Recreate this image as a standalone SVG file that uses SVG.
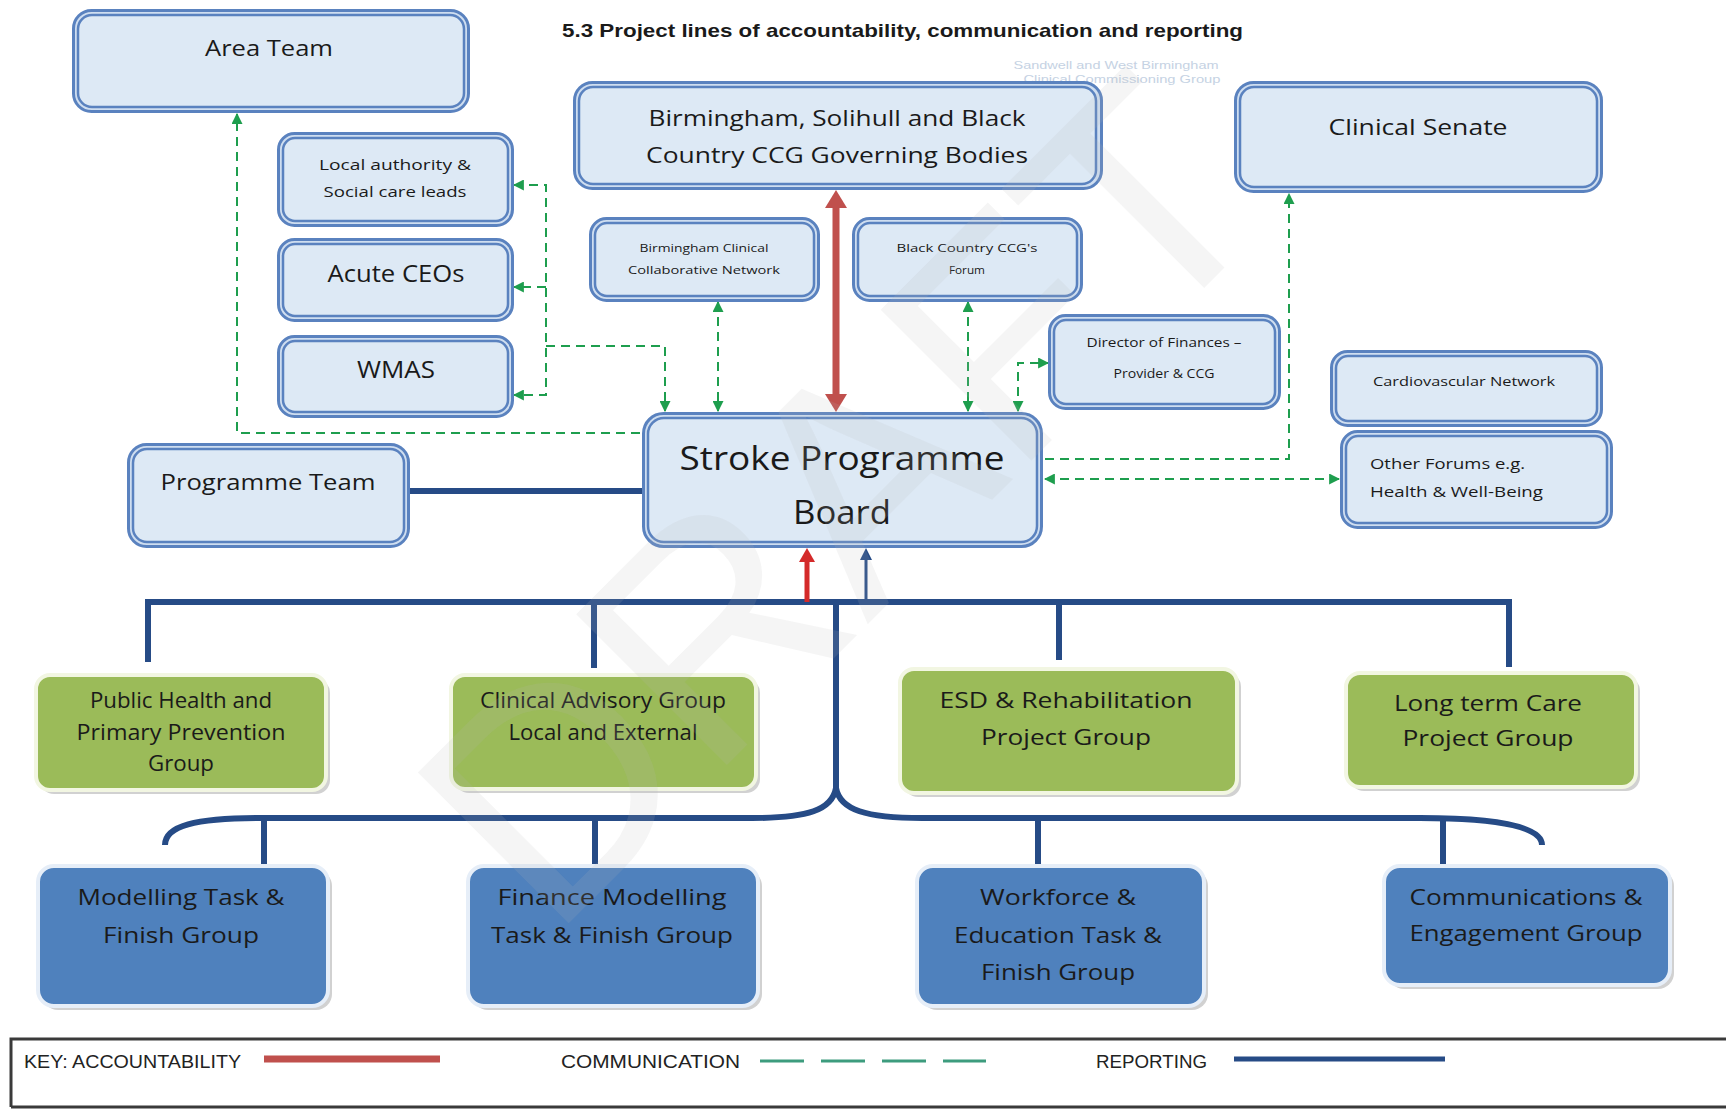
<svg xmlns="http://www.w3.org/2000/svg" width="1726" height="1110" viewBox="0 0 1726 1110">
<defs>
<style>
.o{fill:#cfdef0;stroke:#5a82bf;stroke-width:3}
.i{fill:#dde9f5;stroke:#5a82bf;stroke-width:2.5}
.g{fill:#9bbb59;stroke:#f2f6e2;stroke-width:4}
.b{fill:#4f81bd;stroke:#e6eef8;stroke-width:4}
.sh{fill:#9a9a9a;opacity:.45}
.t{font-family:"Open Sans","DejaVu Sans",sans-serif;fill:#1a1a1a;text-anchor:middle}
.tl{font-family:"Open Sans","DejaVu Sans",sans-serif;fill:#1a1a1a}
.rep{stroke:#264b86;stroke-width:6;fill:none}
.com{stroke:#1e9e4e;stroke-width:2;stroke-dasharray:9 6;fill:none}
.k{font-family:"Liberation Sans",Arial,sans-serif;font-size:19px;fill:#222}
</style>
<marker id="ga" viewBox="0 0 10 10" refX="9" refY="5" markerWidth="11" markerHeight="11" markerUnits="userSpaceOnUse" orient="auto-start-reverse"><path d="M0,0 L10,5 L0,10 z" fill="#1e9e4e"/></marker>
</defs>
<rect width="1726" height="1110" fill="#fff"/>

<text x="562" y="37" textLength="681" lengthAdjust="spacingAndGlyphs" font-family="Liberation Sans,Arial,sans-serif" font-weight="bold" font-size="19" fill="#1a1a1a">5.3 Project lines of accountability, communication and reporting</text>
<text x="1116" y="69" text-anchor="middle" font-family="Liberation Sans,Arial,sans-serif" font-size="11" fill="#c5d2e3" textLength="205" lengthAdjust="spacingAndGlyphs">Sandwell and West Birmingham</text>
<text x="1122" y="83" text-anchor="middle" font-family="Liberation Sans,Arial,sans-serif" font-size="11" fill="#c5d2e3" textLength="197" lengthAdjust="spacingAndGlyphs">Clinical Commissioning Group</text>

<g id="connectors">
<path class="rep" d="M410 491 H643"/>
<path class="rep" d="M148 662 V602 H1509 V667"/>
<path class="rep" d="M594 602 V668 M1059 602 V660"/>
<path class="rep" d="M836 602 V792"/>
<path class="rep" d="M165 845 C165 826 195 818 260 818 H752 C808 818 832 810 836 788 C840 810 866 818 922 818 H1420 C1505 818 1542 828 1542 845"/>
<path class="rep" d="M264 818 V866 M595 818 V866 M1038 818 V866 M1443 818 V866"/>
<path d="M807 602 V560" stroke="#d42a2a" stroke-width="5"/>
<polygon points="807,548 799,562 815,562" fill="#d42a2a"/>
<path d="M866 602 V558" stroke="#264b86" stroke-width="3"/>
<polygon points="866,548 860,560 872,560" fill="#264b86"/>
<path d="M836 206 V396" stroke="#c0504d" stroke-width="7"/>
<polygon points="836,190 825,208 847,208" fill="#c0504d"/>
<polygon points="836,412 825,394 847,394" fill="#c0504d"/>
<path class="com" d="M640 433 H237 V114" marker-end="url(#ga)"/>
<path class="com" d="M514 185 H546 V395 H514" marker-start="url(#ga)" marker-end="url(#ga)"/>
<path class="com" d="M546 287 H514" marker-end="url(#ga)"/>
<path class="com" d="M546 346 H665 V411" marker-end="url(#ga)"/>
<path class="com" d="M718 302 V411" marker-start="url(#ga)" marker-end="url(#ga)"/>
<path class="com" d="M968 302 V411" marker-start="url(#ga)" marker-end="url(#ga)"/>
<path class="com" d="M1018 411 V363 H1048" marker-start="url(#ga)" marker-end="url(#ga)"/>
<path class="com" d="M1045 459 H1289 V194" marker-end="url(#ga)"/>
<path class="com" d="M1045 479 H1339" marker-start="url(#ga)" marker-end="url(#ga)"/>
</g>

<g id="area-team"><rect class="o" x="73.5" y="10.5" width="395" height="101" rx="18"/><rect class="i" x="78" y="15" width="386" height="92" rx="14"/>
<text class="t" x="269" y="56" font-size="22" textLength="128" lengthAdjust="spacingAndGlyphs">Area Team</text></g>

<g id="ccg-governing"><rect class="o" x="574.5" y="82.5" width="527" height="106" rx="18"/><rect class="i" x="579" y="87" width="517" height="97" rx="14"/>
<text class="t" x="837" y="126" font-size="21" textLength="377" lengthAdjust="spacingAndGlyphs">Birmingham, Solihull and Black</text>
<text class="t" x="837" y="163" font-size="21" textLength="382" lengthAdjust="spacingAndGlyphs">Country CCG Governing Bodies</text></g>

<g id="clinical-senate"><rect class="o" x="1235.5" y="82.5" width="366" height="109" rx="18"/><rect class="i" x="1240" y="87" width="357" height="100" rx="14"/>
<text class="t" x="1418" y="135" font-size="22" textLength="179" lengthAdjust="spacingAndGlyphs">Clinical Senate</text></g>

<g id="local-authority"><rect class="o" x="278.5" y="133.5" width="234" height="92" rx="16"/><rect class="i" x="283" y="138" width="225" height="83" rx="12"/>
<text class="t" x="395" y="170" font-size="14" textLength="152" lengthAdjust="spacingAndGlyphs">Local authority &amp;</text>
<text class="t" x="395" y="197" font-size="14" textLength="143" lengthAdjust="spacingAndGlyphs">Social care leads</text></g>

<g id="acute-ceos"><rect class="o" x="278.5" y="239.5" width="234" height="81" rx="16"/><rect class="i" x="283" y="244" width="225" height="72" rx="12"/>
<text class="t" x="396" y="282" font-size="23" textLength="137" lengthAdjust="spacingAndGlyphs">Acute CEOs</text></g>

<g id="wmas"><rect class="o" x="278.5" y="336.5" width="234" height="80" rx="16"/><rect class="i" x="283" y="341" width="225" height="71" rx="12"/>
<text class="t" x="396" y="378" font-size="23" textLength="78" lengthAdjust="spacingAndGlyphs">WMAS</text></g>

<g id="bham-clinical-network"><rect class="o" x="590.5" y="218.5" width="228" height="82" rx="16"/><rect class="i" x="595" y="223" width="219" height="73" rx="12"/>
<text class="t" x="704" y="252" font-size="11" textLength="129" lengthAdjust="spacingAndGlyphs">Birmingham  Clinical</text>
<text class="t" x="704" y="274" font-size="11" textLength="152" lengthAdjust="spacingAndGlyphs">Collaborative  Network</text></g>

<g id="black-country-forum"><rect class="o" x="853.5" y="218.5" width="228" height="82" rx="16"/><rect class="i" x="858" y="223" width="219" height="73" rx="12"/>
<text class="t" x="967" y="252" font-size="11" textLength="141" lengthAdjust="spacingAndGlyphs">Black Country  CCG's</text>
<text class="t" x="967" y="274" font-size="11" textLength="36" lengthAdjust="spacingAndGlyphs">Forum</text></g>

<g id="director-finances"><rect class="o" x="1049.5" y="315.5" width="230" height="93" rx="16"/><rect class="i" x="1054" y="320" width="221" height="84" rx="12"/>
<text class="t" x="1164" y="347" font-size="12" textLength="155" lengthAdjust="spacingAndGlyphs">Director of Finances –</text>
<text class="t" x="1164" y="378" font-size="12" textLength="101" lengthAdjust="spacingAndGlyphs">Provider  &amp; CCG</text></g>

<g id="cardiovascular"><rect class="o" x="1331.5" y="351.5" width="270" height="74" rx="16"/><rect class="i" x="1336" y="356" width="261" height="65" rx="12"/>
<text class="t" x="1464" y="386" font-size="13" textLength="182" lengthAdjust="spacingAndGlyphs">Cardiovascular Network</text></g>

<g id="other-forums"><rect class="o" x="1341.5" y="431.5" width="270" height="96" rx="16"/><rect class="i" x="1346" y="436" width="261" height="87" rx="12"/>
<text class="tl" x="1370" y="469" font-size="15" textLength="155" lengthAdjust="spacingAndGlyphs">Other Forums e.g.</text>
<text class="tl" x="1370" y="497" font-size="15" textLength="173" lengthAdjust="spacingAndGlyphs">Health &amp; Well-Being</text></g>

<g id="stroke-board"><rect class="o" x="643.5" y="413.5" width="398" height="133" rx="20"/><rect class="i" x="648" y="418" width="389" height="124" rx="16"/>
<text class="t" x="842" y="470" font-size="32" textLength="325" lengthAdjust="spacingAndGlyphs">Stroke Programme</text>
<text class="t" x="842" y="524" font-size="32" textLength="98" lengthAdjust="spacingAndGlyphs">Board</text></g>

<g id="programme-team"><rect class="o" x="128.5" y="444.5" width="280" height="102" rx="18"/><rect class="i" x="133" y="449" width="271" height="93" rx="14"/>
<text class="t" x="268" y="490" font-size="22" textLength="215" lengthAdjust="spacingAndGlyphs">Programme Team</text></g>

<g id="public-health"><rect class="sh" x="40" y="679" width="290" height="115" rx="14"/><rect class="g" x="36" y="675" width="290" height="115" rx="14"/>
<text class="t" x="181" y="708" font-size="21" textLength="182" lengthAdjust="spacingAndGlyphs">Public Health and</text>
<text class="t" x="181" y="740" font-size="21" textLength="209" lengthAdjust="spacingAndGlyphs">Primary Prevention</text>
<text class="t" x="181" y="771" font-size="21" textLength="66" lengthAdjust="spacingAndGlyphs">Group</text></g>

<g id="clinical-advisory"><rect class="sh" x="455" y="679" width="305" height="114" rx="14"/><rect class="g" x="451" y="675" width="305" height="114" rx="14"/>
<text class="t" x="603" y="708" font-size="21" textLength="246" lengthAdjust="spacingAndGlyphs">Clinical Advisory Group</text>
<text class="t" x="603" y="740" font-size="21" textLength="189" lengthAdjust="spacingAndGlyphs">Local and External</text></g>

<g id="esd-rehab"><rect class="sh" x="904" y="673" width="337" height="124" rx="14"/><rect class="g" x="900" y="669" width="337" height="124" rx="14"/>
<text class="t" x="1066" y="708" font-size="22" textLength="253" lengthAdjust="spacingAndGlyphs">ESD &amp; Rehabilitation</text>
<text class="t" x="1066" y="745" font-size="22" textLength="170" lengthAdjust="spacingAndGlyphs">Project Group</text></g>

<g id="long-term-care"><rect class="sh" x="1350" y="677" width="290" height="114" rx="14"/><rect class="g" x="1346" y="673" width="290" height="114" rx="14"/>
<text class="t" x="1488" y="711" font-size="22" textLength="188" lengthAdjust="spacingAndGlyphs">Long term Care</text>
<text class="t" x="1488" y="746" font-size="22" textLength="171" lengthAdjust="spacingAndGlyphs">Project Group</text></g>

<g id="modelling-tf"><rect class="sh" x="42" y="870" width="290" height="140" rx="16"/><rect class="b" x="38" y="866" width="290" height="140" rx="16"/>
<text class="t" x="181" y="905" font-size="22" textLength="207" lengthAdjust="spacingAndGlyphs">Modelling Task &amp;</text>
<text class="t" x="181" y="943" font-size="22" textLength="156" lengthAdjust="spacingAndGlyphs">Finish Group</text></g>

<g id="finance-modelling-tf"><rect class="sh" x="472" y="870" width="290" height="140" rx="16"/><rect class="b" x="468" y="866" width="290" height="140" rx="16"/>
<text class="t" x="612" y="905" font-size="22" textLength="229" lengthAdjust="spacingAndGlyphs">Finance Modelling</text>
<text class="t" x="612" y="943" font-size="22" textLength="242" lengthAdjust="spacingAndGlyphs">Task &amp; Finish Group</text></g>

<g id="workforce-tf"><rect class="sh" x="921" y="870" width="287" height="140" rx="16"/><rect class="b" x="917" y="866" width="287" height="140" rx="16"/>
<text class="t" x="1058" y="905" font-size="22" textLength="156" lengthAdjust="spacingAndGlyphs">Workforce &amp;</text>
<text class="t" x="1058" y="943" font-size="22" textLength="208" lengthAdjust="spacingAndGlyphs">Education Task &amp;</text>
<text class="t" x="1058" y="980" font-size="22" textLength="154" lengthAdjust="spacingAndGlyphs">Finish Group</text></g>

<g id="communications"><rect class="sh" x="1388" y="870" width="286" height="119" rx="16"/><rect class="b" x="1384" y="866" width="286" height="119" rx="16"/>
<text class="t" x="1526" y="905" font-size="22" textLength="233" lengthAdjust="spacingAndGlyphs">Communications &amp;</text>
<text class="t" x="1526" y="941" font-size="22" textLength="233" lengthAdjust="spacingAndGlyphs">Engagement Group</text></g>

<g id="key">
<path d="M11 1107 V1039 H1730 M11 1107 H1730" stroke="#3a3a3a" stroke-width="3" fill="none"/>
<text class="k" x="24" y="1068" textLength="217" lengthAdjust="spacingAndGlyphs">KEY:  ACCOUNTABILITY</text>
<path d="M264 1059 H440" stroke="#c0504d" stroke-width="7"/>
<text class="k" x="561" y="1068" textLength="179" lengthAdjust="spacingAndGlyphs">COMMUNICATION</text>
<path d="M760 1061 H986" stroke="#3d9c7e" stroke-width="3" stroke-dasharray="44 17"/>
<text class="k" x="1096" y="1068" textLength="111" lengthAdjust="spacingAndGlyphs">REPORTING</text>
<path d="M1234 1059 H1445" stroke="#264b86" stroke-width="5"/>
</g>

<text x="840" y="500" font-family="Liberation Sans,Arial,sans-serif" font-size="310" text-anchor="middle" dominant-baseline="central" transform="rotate(-45 840 500)" fill="#b8b8b8" fill-opacity="0.14">DRAFT</text>
</svg>
